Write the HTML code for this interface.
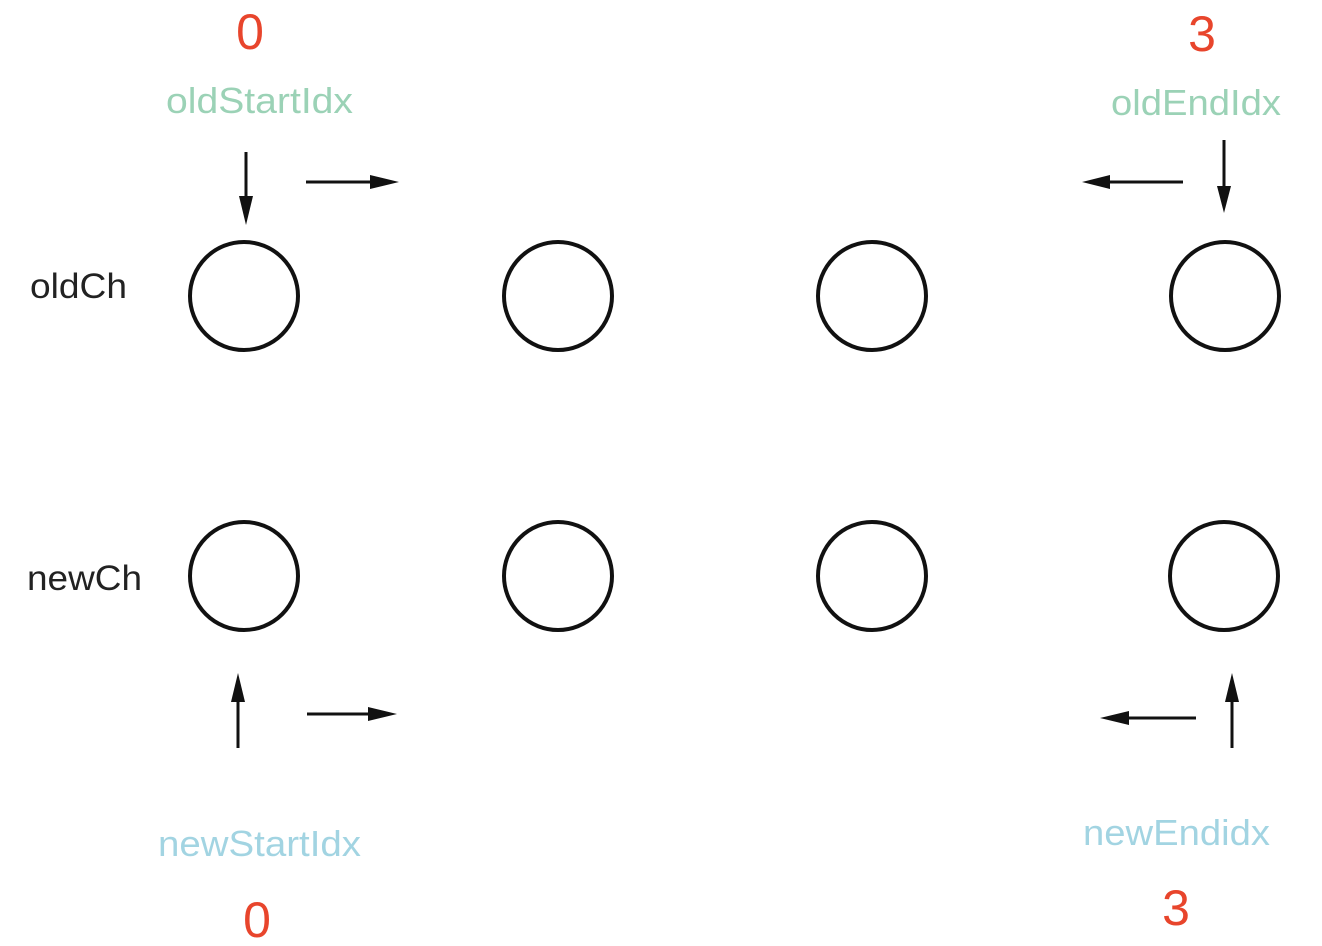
<!DOCTYPE html>
<html><head><meta charset="utf-8"><style>html,body{margin:0;padding:0;background:#fff}svg{display:block}</style></head>
<body>
<svg width="1322" height="946" viewBox="0 0 1322 946" xmlns="http://www.w3.org/2000/svg" font-family="Liberation Sans, DejaVu Sans, sans-serif">
<g fill="none" stroke="#111" stroke-width="4">
<circle cx="244" cy="296" r="54"/><circle cx="558" cy="296" r="54"/><circle cx="872" cy="296" r="54"/><circle cx="1225" cy="296" r="54"/>
<circle cx="244" cy="576" r="54"/><circle cx="558" cy="576" r="54"/><circle cx="872" cy="576" r="54"/><circle cx="1224" cy="576" r="54"/>
</g>
<g stroke="#111" stroke-width="3">
<line x1="246" y1="152" x2="246" y2="200"/><path d="M239,196 L253,196 L246,225 z" fill="#111" stroke="none"/>
<line x1="306" y1="182" x2="375" y2="182"/><path d="M370,175 L370,189 L399,182 z" fill="#111" stroke="none"/>
<line x1="1183" y1="182" x2="1105" y2="182"/><path d="M1110,175 L1110,189 L1082,182 z" fill="#111" stroke="none"/>
<line x1="1224" y1="140" x2="1224" y2="190"/><path d="M1217,186 L1231,186 L1224,213 z" fill="#111" stroke="none"/>
<line x1="238" y1="748" x2="238" y2="698"/><path d="M231,702 L245,702 L238,673 z" fill="#111" stroke="none"/>
<line x1="307" y1="714" x2="372" y2="714"/><path d="M368,707 L368,721 L397,714 z" fill="#111" stroke="none"/>
<line x1="1196" y1="718" x2="1125" y2="718"/><path d="M1129,711 L1129,725 L1100,718 z" fill="#111" stroke="none"/>
<line x1="1232" y1="748" x2="1232" y2="698"/><path d="M1225,702 L1239,702 L1232,673 z" fill="#111" stroke="none"/>
</g>
<g fill="#e8452c" font-size="50" text-anchor="middle">
<text x="250" y="49">0</text><text x="1202" y="51">3</text>
<text x="257" y="937">0</text><text x="1176" y="925">3</text>
</g>
<g font-size="36" lengthAdjust="spacingAndGlyphs">
<text x="166" y="113" fill="#9bd2b6" textLength="187" lengthAdjust="spacingAndGlyphs">oldStartIdx</text>
<text x="1111" y="115" fill="#9bd2b6" textLength="170" lengthAdjust="spacingAndGlyphs">oldEndIdx</text>
<text x="158" y="856" fill="#a2d4e2" textLength="203" lengthAdjust="spacingAndGlyphs">newStartIdx</text>
<text x="1083" y="845" fill="#a2d4e2" textLength="187" lengthAdjust="spacingAndGlyphs">newEndidx</text>
</g>
<g font-size="35" fill="#222">
<text x="30" y="298" textLength="97" lengthAdjust="spacingAndGlyphs">oldCh</text>
<text x="27" y="590" textLength="115" lengthAdjust="spacingAndGlyphs">newCh</text>
</g>
</svg>
</body></html>
